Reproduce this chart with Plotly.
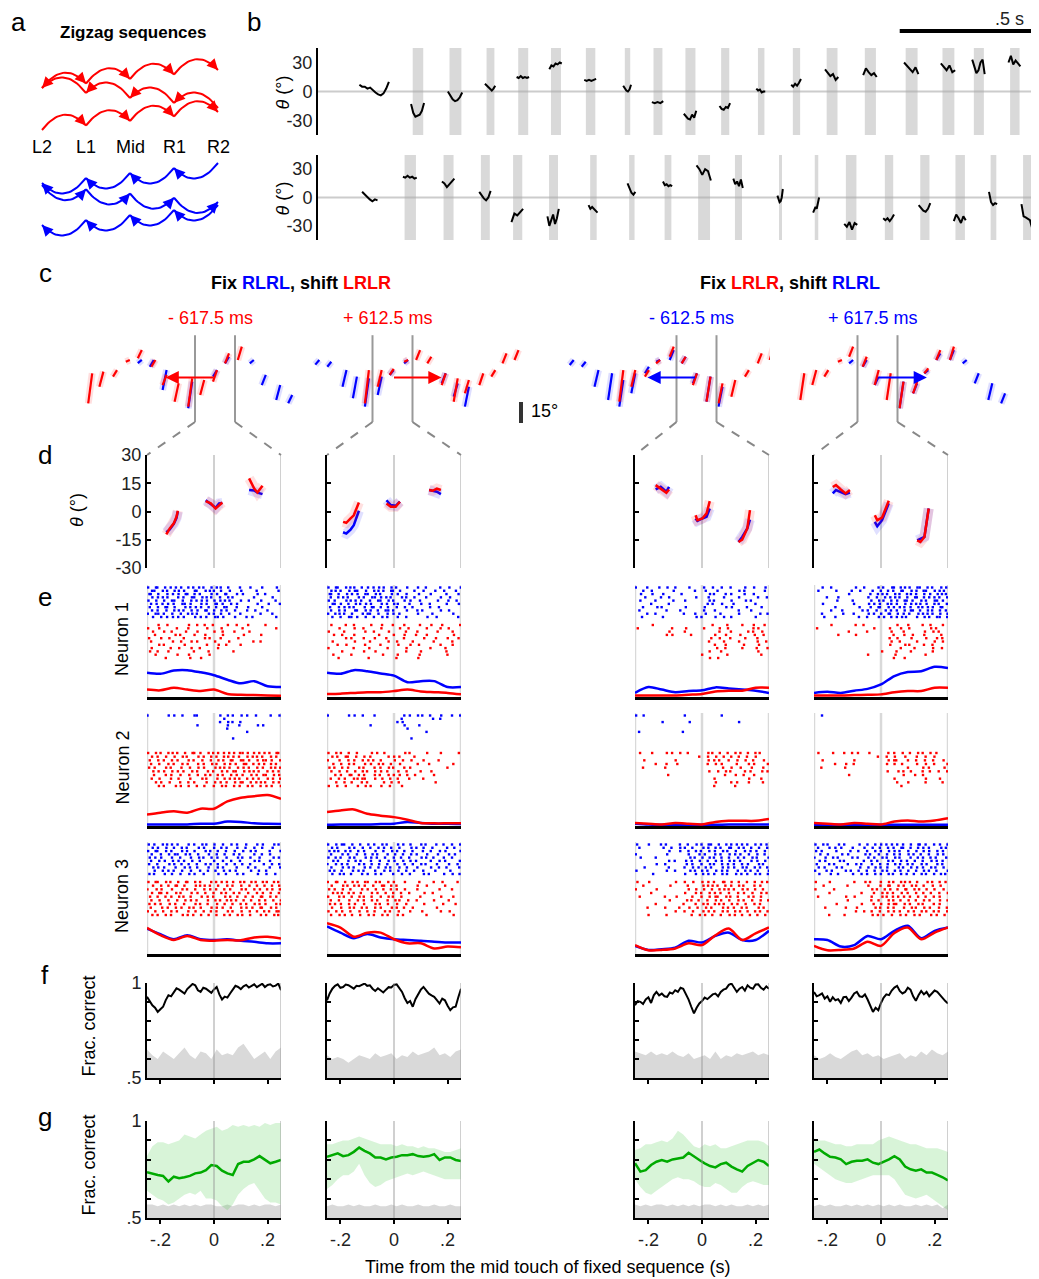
import numpy as np
import plotly.graph_objects as go

W, H = 1039, 1279
OFF = 8  # the page body margin shifts the figure by 8 px
FW, FH = W - OFF, H - OFF
FONT = "Liberation Sans, Arial, sans-serif"
RED = "#ff0000"
BLUE = "#0000ff"
GREEN = "rgb(0,170,0)"
GRAY_LINE = "rgba(150,150,150,0.45)"

# ---------------- data ----------------
# a: touch positions and zigzag rows (indices into positions)
A_POSITIONS = ["L2", "L1", "Mid", "R1", "R2"]
A_RED_ROWS = [[0, 1, 2, 3, 4], [4, 3, 2, 1, 0], [0, 1, 2, 3, 4]]
A_BLUE_ROWS = [[4, 3, 2, 1, 0], [0, 1, 2, 3, 4], [4, 3, 2, 1, 0]]

# b: touch periods (s) and whisker angle (deg) within each touch
B_TOP_ON = [0.350, 0.486, 0.623, 0.740, 0.861, 0.990, 1.134, 1.240, 1.358, 1.490, 1.626, 1.755, 1.880, 2.021, 2.172, 2.308, 2.424, 2.558]
B_TOP_OFF = [0.389, 0.530, 0.652, 0.777, 0.898, 1.025, 1.154, 1.273, 1.395, 1.520, 1.650, 1.782, 1.920, 2.062, 2.216, 2.352, 2.461, 2.593]
B_TOP_FIRST_SPAN = [0.153, 0.262]
B_TOP_FIRST = [7, 5, 5, 3, 4, 1, -1, -3, -4, -2, 3, 10]
B_TOP_VALS = [
    [-13, -22, -26, -25, -24, -20, -12],
    [0, -4, -8, -10, -9, -6, -1],
    [8, 6, 4, 2, 1, 3, 6],
    [15, 14, 16, 14, 15, 14, 15],
    [23, 27, 26, 29, 28, 30, 29],
    [12, 11, 12, 11, 12, 13],
    [6, 3, 1, 0, 2, 7],
    [-11, -12, -11, -12, -10],
    [-23, -26, -28, -29, -24, -27, -20],
    [-15, -18, -19, -16, -17, -12],
    [3, 1, 2, -1, 0, 0],
    [7, 5, 8, 6, 9, 13],
    [23, 20, 16, 18, 12, 15],
    [17, 24, 20, 17, 19, 15],
    [30, 27, 24, 20, 25, 18],
    [29, 26, 22, 27, 20, 22],
    [33, 25, 19, 22, 30, 33, 18],
    [30, 37, 28, 32, 29, 26],
]
B_BOT_ON = [0.320, 0.464, 0.602, 0.721, 0.854, 1.006, 1.150, 1.281, 1.405, 1.541, 1.704, 1.836, 1.951, 2.095, 2.226, 2.356, 2.486, 2.606]
B_BOT_OFF = [0.362, 0.501, 0.635, 0.755, 0.887, 1.030, 1.170, 1.306, 1.449, 1.567, 1.715, 1.849, 1.990, 2.126, 2.260, 2.391, 2.507, 2.636]
B_BOT_FIRST_SPAN = [0.163, 0.220]
B_BOT_FIRST = [6, 3, 0, -2, -4, -2, -3]
B_BOT_VALS = [
    [22, 21, 23, 21, 22, 20, 21],
    [17, 15, 11, 14, 17, 20],
    [6, 2, -1, -3, 0, 7],
    [-26, -17, -19, -16, -12],
    [-20, -30, -24, -18, -28, -22, -12],
    [-8, -12, -10, -12, -13, -16],
    [15, 9, 5, 3, 6],
    [17, 13, 14, 12, 13, 12],
    [34, 30, 24, 30, 28, 18],
    [20, 14, 17, 12, 19, 10],
    [2, -3, -5, -4, 0, 9],
    [-16, -12, -10, -12, -7, 0],
    [-28, -31, -26, -34, -27, -29],
    [-22, -24, -22, -25, -22, -18],
    [-8, -11, -14, -15, -12, -6],
    [-25, -18, -22, -27, -20, -24],
    [6, -5, -8, -6, -7],
    [-7, -20, -21, -23, -24, -32],
]

# c: shifted sequences, touches as (time s, top deg, bottom deg)
C_TITLES = ["Fix <span style='color:#0000ff'>RLRL</span>, shift <span style='color:#ff0000'>LRLR</span>",
            "Fix <span style='color:#ff0000'>LRLR</span>, shift <span style='color:#0000ff'>RLRL</span>"]
C_SHIFTS = [-0.6175, 0.6125, -0.6125, 0.6175]
C_SHIFT_LABELS = ["- 617.5 ms", "+ 612.5 ms", "- 612.5 ms", "+ 617.5 ms"]
C1_RED = [(-1.56, 4.8, -16.7), (-1.42, 6.0, -4.8), (-1.25, 7.0, 2.4), (-1.09, 14.3, 13.0), (-0.94, 21.4, 15.5),
          (-0.77, 14.3, 9.5), (-0.63, 3.6, -3.6), (-0.48, -2.4, -15.5), (-0.31, 1.2, -19.0), (-0.16, 0.0, -10.7),
          (0.00, 7.1, -1.2), (0.15, 19.0, 11.9), (0.31, 23.8, 14.3)]
C1_BLUE = [(-0.94, 14.3, 12.0), (-0.79, 14.3, 9.5), (-0.63, 7.1, -7.1), (-0.31, -1.2, -20.2), (0.00, 7.1, 2.4),
           (0.15, 16.6, 11.9), (0.46, 14.3, 11.9), (0.61, 3.6, -3.6), (0.79, -3.6, -14.3), (0.94, -10.7, -16.6)]
C2_RED = [(-0.32, 7.1, -16.7), (-0.16, 7.1, -4.8), (-0.01, 8.0, 3.6), (0.17, 14.3, 13.1), (0.32, 21.4, 14.3),
          (0.46, 16.6, 11.9), (0.64, 4.8, -3.6), (0.79, 1.2, -15.5), (0.93, 0.0, -9.5), (1.11, 4.8, -3.6),
          (1.26, 7.1, 2.4), (1.40, 19.0, 11.9), (1.55, 21.4, 14.3)]
C2_BLUE = [(-0.94, 14.3, 11.0), (-0.79, 13.0, 9.5), (-0.60, 7.1, -4.8), (-0.47, 2.4, -13.0), (-0.32, 1.2, -19.0),
           (-0.16, 2.4, -10.7), (-0.01, 7.1, 3.6), (0.17, 14.3, 11.9), (0.64, 4.8, -2.4), (0.79, -2.4, -11.9),
           (0.93, -4.8, -19.0)]
C3_RED = [(-0.94, 7.1, -15.5), (-0.79, 7.1, -4.8), (-0.62, 7.1, 2.4), (-0.48, 14.3, 11.9), (-0.31, 23.8, 16.6),
          (-0.16, 16.6, 11.9), (-0.02, 4.8, -3.6), (0.15, 2.4, -15.5), (0.30, -2.4, -16.7), (0.46, 0.0, -11.9),
          (0.63, 7.1, 2.4), (0.79, 19.0, 11.9), (0.94, 23.8, 14.3)]
C3_BLUE = [(-1.56, 14.3, 10.7), (-1.41, 13.0, 9.5), (-1.25, 7.1, -4.8), (-1.08, 4.8, -14.3), (-0.94, 0.0, -19.0),
           (-0.79, 4.8, -9.5), (-0.62, 9.5, 4.8), (-0.48, 14.3, 13.1), (-0.31, 21.4, 14.3), (-0.16, 16.6, 11.9),
           (-0.02, 4.8, -2.4), (0.15, 2.4, -15.5), (0.30, -4.8, -19.0)]
C4_RED = [(-0.94, 4.8, -14.3), (-0.79, 7.1, -3.6), (-0.64, 7.1, 2.4), (-0.47, 14.3, 13.1), (-0.33, 23.8, 16.6),
          (-0.16, 16.6, 9.5), (-0.01, 7.1, -3.6), (0.14, 4.8, -14.3), (0.30, -1.2, -20.2), (0.47, -1.2, -9.5),
          (0.61, 8.3, 4.8), (0.76, 21.4, 14.3), (0.93, 23.8, 14.3)]
C4_BLUE = [(-0.33, 14.3, 11.9), (-0.16, 14.3, 9.5), (-0.01, 2.4, -3.6), (0.30, -1.2, -20.2), (0.47, -2.4, -9.5),
           (0.61, 7.1, 4.8), (0.76, 19.0, 14.3), (0.93, 21.4, 14.3), (1.09, 14.3, 11.9), (1.24, 4.8, -2.4),
           (1.41, -2.4, -14.3), (1.57, -9.5, -16.7)]

# d: mean angle around the three touches, per column: (times, red, blue)
D1 = [([-0.178, -0.165, -0.150, -0.140, -0.135], [-12.2, -9.0, -6.3, -2.8, 0.4], [-11.0, -9.5, -6.5, -3.5, 0.0]),
      ([-0.031, -0.012, 0.006, 0.019, 0.031], [5.5, 4.3, 1.6, 3.4, 4.8], [6.0, 3.9, 2.0, 4.3, 4.5]),
      ([0.131, 0.150, 0.162, 0.181], [17.6, 12.2, 10.1, 13.7], [11.4, 11.2, 10.0, 9.2])]
D2 = [([-0.190, -0.178, -0.162, -0.150, -0.131], [-5.5, -6.0, -3.7, -2.0, 4.8], [-11.0, -11.7, -9.6, -7.3, 0.4]),
      ([-0.028, -0.012, 0.006, 0.022], [4.3, 2.5, 2.5, 5.2], [6.0, 3.4, 3.0, 5.2]),
      ([0.131, 0.144, 0.160, 0.175], [11.4, 11.0, 12.1, 11.4], [11.4, 11.0, 10.5, 9.2])]
D3 = [([-0.173, -0.154, -0.133, -0.123], [14.0, 12.2, 9.9, 11.7], [11.7, 13.1, 10.5, 13.1]),
      ([-0.024, -0.017, 0.001, 0.017, 0.029], [-2.0, -4.6, -3.7, -1.0, 5.5], [-3.7, -5.0, -3.7, -2.8, 1.6]),
      ([0.136, 0.150, 0.169, 0.179], [-16.2, -14.9, -9.0, 0.7], [-16.2, -13.5, -9.0, -4.3])]
D4 = [([-0.180, -0.168, -0.150, -0.132, -0.116], [13.0, 14.0, 11.7, 9.6, 11.4], [9.6, 11.4, 10.3, 9.2, 10.0]),
      ([-0.023, -0.014, 0.004, 0.020, 0.029], [-2.0, -4.6, -3.2, 2.5, 5.7], [-5.5, -7.8, -4.6, 0.7, 4.3]),
      ([0.135, 0.147, 0.162, 0.178], [-15.3, -16.2, -13.5, 1.6], [-15.3, -14.5, -13.5, 1.6])]

# e: spike rasters, one string per trial, 41 bins from -0.25 to 0.25 s.
# a digit marks a spike and gives its position inside the bin (tenths), '.' = no spike
N1_C1_BLUE = ["3.71.5.28.4.6.19.2.7.35.8...4..6...2...7.", ".52.8.1.47.3..61.9.24.6..3..8....5......2",
              "71.4..29.6.83.5.1..7.4.92..5.3...8..1....", ".6.38.2..5.1.74.9.26..3.8.1.....7.....4..",
              "4.8..2.63.9..5.17.3.6.48.2..7..1..9....3.", ".29.7.4.1.85.3..6.2.93.1.7.5.....8...2..6",
              "8..3.61.4..7.29.5.8..1.63..4..9....2.....", ".5.2.9..37.1.6.4.82.5.7.3.9...6..1..8....",
              "2.64.1.7..3.58.2..9.4.6..1..5.....7...3..", ".8..3.19.5.2..7.4.1.86.3..9...4.2......5."]
N1_C1_RED = ["...5..2.....8..3.6..1...7..4..9.....2....", "3..7.....1..6.....4...8......2.........5.",
             ".8...2.5...9...4....6..1..7....3.........", "..4.....7.1...5..8.....2.....6....9......",
             "6...3.8....2.....7.1..5....9.............", ".2.....9..4..6.3....8....1......5.7......",
             "...7.1.....5......3..9..2...6............", ".4.....2.8...6..1....7...................",
             "9..2..5.......3...8.......4..............", "..6......3..8......1.....................",
             ".....7.......2..5........................"]
N1_C2_BLUE = ["4.72.8.13.6.5.29.3.7.1..5..8..2...6..4..9", ".36.1.8.52.9..47.2.61.3...7..5...1.8...4.",
              "82.5..16.3.74.9.2..8.6..3...1..7....5...2", ".1.49.3..7.2.86.5.14..9.2.7...3...8..6...",
              "5.3..9.27.4..1.63.8.2..7.5..4....9...1.6.", ".73.2.5.8.19.4..7.3.56...2..8..4....6...3",
              "9..6.38.1..5.72.4.6..3.8..1....5..2......", ".2.7.4..61.8.3.5.97.2...4..6.1....8..3...",
              "3.58.2.6..9.41.7..5.3.1....8....2.....6..", ".6..1.74.2.8..3.9.4..6..2.....7..5......1"]
N1_C2_RED = [".3...7..2....5..8...1..6....4..9...2....7", "...8....4..1....6.....3.9.....5...7..2...",
             "5....2.....7..3...9.....1..6.....8....4..", "..1.6...3......9....4..7...2..5.......8..",
             ".....8.4...2..6...1....5.....7...3..9...2", ".7......5....1....8..4....2.....6.....3..",
             "...2.9.....6....3....8...5..1.....7...4..", "4.......1...9.....5.....3......6....2....",
             "....6......3..8.........2...7.......5....", ".9.....4.........1...6......3.......8....",
             "...5........7........2.....9............."]
N1_C3_BLUE = ["2..7...4.9..3...6....1.8..5..2...7..4..9.", "..5..1.....8......3..6...2.....9.4.....7.",
              ".8...3..6.....2.......9.1..7.4...5..3....", "...1...9..4.......7...5....2...8.....6..3",
              ".6....2....7...3......8.1....5...9.4.....", "....9.....3...........27..6...1.....8....",
              "..4...8.1......5.....3.....9.6....2...7..", ".3.......6...8.......1..4......7...5.....",
              "...7..2.......9...4..6....1....8......3.5", "..1.....5.........8.3...6..2.4......9...."]
N1_C3_RED = [".....4.................7....2...8...3..6.", "8..........3...6.....1...9..4.......27...",
             "..........5....2.........8...3....6.1.9..", ".........7.4.....1......5..8....2...6..3.",
             ".......................3.9...1...7...4...", "......................6....2...8.....5..1",
             "........................4..7.....3...9...", ".........................1.6....8....2..5",
             "......................8...3..........7...", "....................5.......2.........6..",
             "......................9..4..............."]
N1_C4_BLUE = ["..6..2......8..3...7.1.94.58.2.63.7.1.9.4", ".3....8....5..1..9..4.6.2.71.8.3.52.9.47.",
              "..........7......2.59.3.8.1.46.2.7.5.8.13", "...9...4........6..2.7.38.1.5.94.6.28.3.7",
              ".......1...8.....5.9.2.6.4.73.1.8.2.96.4.", "..7.........2...8.4.1.56.3.9.7.25.4.8.1.6",
              "......5......9...3.71.8.4.26.5.9.18.3.72.", ".....2..6.....8.4..1.9.5.3.7.62.4.8.1.5.3",
              "..4.....9...1...7.3.5.82.6.4.1.9.37.2.6.8", "...1..5......7..2..8.4.6.39.1..5.8.2.64.7"]
N1_C4_RED = [".....3......7..1.........5..8....2.6...4.", "9.................4....2..6..1.....8.3...",
             "..........6.....2......7...4.....9..5.1..", ".......4....8...........3..6..2..7....9.",
             ".......................1.5...8....3..6.2", ".......................7..2....5....9..4.",
             ".......................3...9.1...6..2....", "..........................5...7.....4..1.",
             "....................8....2...6......3....", "................5.......9.........1......",
             "........................4..7............."]
N2_C1_BLUE = ["1.....6.3.8...52......4.7.2.9.6..3...8..5", ".......................6.................",
              "......................3.8.1.5............", "...............4........7...2....9.5.....",
              "........................5................", "..............................6..........",
              ".........................................", "..........................3..............",
              ".........................................", "........................................."]
N2_C1_RED = ["3.7.1.58.2.6.94.3.8.27.5.16.428.7.39.4.61", ".5.2.8..4.9.1..7.3.6.2.58.4.1.7.36.2.9.5.",
             "8..4.1.6.3..7.2.9..5.8.3.61.74.2.8.53.1.7", ".2.7..5.1.8.4..6.3.9.2.7.4.1.63.5.28.9.4.",
             "6.3..8.2..5..1.7.4..9.36.2.8.5.1.7.4.9.27", ".9.5.2.7.4.1.8.3..6.2.9.5.41.7.36.1.8.5.2",
             "..1..7.4..2.9..5.8.3.6.1.7.4.2.9.5.63.8.4", ".4.8...3.6...2..9.1..5.7.38.2.6.4.1.9.5.7",
             "..7.3.9...1.6.4...2.8.5.3.9.62.7.48.1.6.3", "...6.1..8.3.7..2.5..4.9.1.6.3.8.2.7.5.1.9"]
N2_C2_BLUE = ["2.....7.4.9...5........6.3.8.1.5..9...2.7", "......................8.........4.6......",
              ".....................5.1.................", ".............3.........7....2............",
              "........................6................", "..............................4..........",
              ".........................................", ".........................8...............",
              ".........................................", "........................................."]
N2_C2_RED = ["4.8.2.6..1...7.3.5.....9.2....6...8.....3", ".6.1.73.9..4.2....8.5.1...7..............",
             "2..8..5.3.9.6.1.4...7..2.8...5....1......", ".9..3.7.2..6.4.8.1.5..3....7...2......6..",
             "7.2.6.4..8.1..5.3.9.2..6.4..........8....", ".3.8..1.6.9.2.7.5.4..8..3...6..9.........",
             "..5.2.94.7.3..6.1.8.4.2.5.9.....7........", ".1.6.4..2385..7.9..3.6...1...4...........",
             "..8..3.5..6.2....4.7.9...........2.......", "5..1.7...4.8.3..6..2..9.................."]
N2_C3_BLUE = ["3.6............2..........5..............", ".........................................",
              "........4.......7..............8.........", ".........................................",
              ".........................................", ".2............6..........................",
              ".........................................", ".........................................",
              ".........................................", "........................................."]
N2_C3_RED = [".5...2...7.3.8..1.....46.9..3.7.2.5.8.1..", "...................6..3.8..1.4.7..2.9....",
             "..8.........4.........5.27..6..3.8..1..4.", "......3..6..9.........2.7.5....1..8.4...6",
             "..4......2................9..5..3..7...2.", "......................7..4.8.1...6.3..9.5",
             "..........1................5..8..2..4....", "........................3.........9...6..",
             "........................7....4.2..8....1.", "........................2.....6.........."]
N2_C4_BLUE = ["..4......................................", ".........................................",
              ".........................................", ".........................................",
              ".........................................", ".........................................",
              ".........................................", ".........................................",
              ".........................................", "........................................."]
N2_C4_RED = [".3...8...2.6.4..9.....7.5..1.3.8.2.6.4...", "...................5..2.7..9...4..1.8....",
             "..6.........3.........8.51..7..2.9..4..6.", "......4..8..1.........3.6.9....5..2.7...8",
             "..2......5..................7....4.1...9.", "......................5..8.3.6...2.4..1.7",
             "..........7................4..9..3.......", "........................6.........2...5..",
             ".........................4..8.....1....3.", "..........................7.............."]
N3_C1_BLUE = ["5.2.8.16.3..7.4.9.1.6..2.8.5..3..7.4..9.2", ".7.3.9..2.6.1..8.4..5.7.3..6..1.8..2..4..",
              "3.61.8.4..7.2.5..9.3.6..1.8..4.7.2...5..8", ".4..2.7.53.8.1.6..9..3.7..5.2...8..1.6...",
              "8.5.3..6..1..4.9.2.7.5..3..8.1.6..4...7.3", ".2.7.4.9.6.3.8..1...5..2.7..4...9.3..6...",
              "6..1..8.3.5.7..2.9.4.6..3.8..1.5...7..2.4", ".9.4.2..7..5.1.3..8..6.2...4..9..1...5..7",
              "..3.8.5.1.7..4..2.6.9..5.3.1...8..2.4....", "7.1..4.6..2.9.5..3...8..1..6.4...9..5..2."]
N3_C1_RED = ["4.62.8.1.5.93.7.2..6.18.4.3.57.9.2.46.8.1", ".8..3.5.71.4..9.26.2.7..5.1.8..3.6.9..2.4",
             "1.9.4..6..8.2.7..5.3.1.6.4..9.2.8.5.7.3.6", ".5.73.1.9.2..6.4.8..3.7.1.5.2.9..6.4.8..3",
             "9..2.6.4.8.1.3..7.5.2..9.4.6..1.3.82.7.5.", ".3.8..5..2.7.4.1..6.9.3.47.2.5.8..3.1.6.9",
             "7.4.1.9.6..3..8.2.5..4.7..1.6.3.9.4.2..58", ".1..6.3.8.5.9.2.4..7.3.1.6..8.4.2.71.9.5.",
             "2.5.9..4.1..6.8..3.5.2..7.1.9..4.6.8.3.62", ".6.2.7.3..9.4.1.5.8..2.6.3.7.1.5..8.4.9.1"]
N3_C2_BLUE = ["3.8.52.7..1.6.4.9.2..7.3.5..8.1..4.6..2.7", ".5.1..8.3.9..2.7.4.6..1..8.3.5..2...7.9..",
              "7.24.6.1.5.3..8..2.9.4.6..1..3.7..5.2...8", ".2..7.4..1.6.9.3..5.8..2.7.4..6..9...3.1.",
              "4.6.1.9.3..8.5.2.7..4.6..1..9.3.5..7..2..", ".9.3..5.7.2..4..1.8.6..3.5.2...7..4.1...6",
              "1.7.5.2..8.3.6.9..4..5.7..2.8.1..6...3.9.", ".3..8.6.1..5.2.7.9.3..1.4..6...8..2.5...4",
              "8.2.4..9.6.1..7..5.3.8..2.6..4...1...7...", ".6.9.1.3..7.4.8.5...2.9..3...6.1...8..4.5"]
N3_C2_RED = ["2.71.5.8.3.64.9.1.7.4..8....2...6..3...9.", ".4..9.2.37.5..1.84.6.2.....7..5.....1....",
             "6.3.8..1..7.4.9..2.5.3.8...6......4...2..", ".8.25.6.1.3..7.4.9..2.6..1...8..3........",
             "3..7.1.5.9.2.6..4.8.1.7.....5.....9...6..", ".1.6..8..4.2.7.3..5.9.1.8..4....7....2...",
             "9.4.2.7.5..3..8.1.6..4..2....7.....5...3.", ".5..3.9.2.6.1.7.4..8.3.5..2......6.......",
             "4.8.6..1.9..3.5..7.2.9...4...1....8..5...", ".2.8.4.6..1.7.3.9.5..6.2......4.......7.."]
N3_C3_BLUE = ["6...2..9.4...7..1.8.3.52.6.9.4.17.3.8.5.2", ".3......7..1.8.2.5..9.4.6.1.83.7.2.5.9..4",
              "..........5..8..3.6.1.7.4.9.2.8..6.3.1.7.", "2........8......4..7.3..5.1.9.6.2.8..4.6.",
              ".7....3.........9.2.6.8.1.4.7..5.3.9.2..8", "..........4.1..6.3.8..2.7.5.9.3.1..6.4.8.",
              "......6..2.....8.5..3.9.1.6.4.2.7.5..9.1.", "..9.......3....1.7.4.6.2..8.5.3.9.1.6.2.4",
              "4........7..2...9.3.5.1.8.6.2..4.7.3.5..9", ".....5.........3..6.8.4.2.7.1.9.5.3.8.2.6"]
N3_C3_RED = ["7...3.......5..2.8..6.4.1.93.5.7..2.6.8.4", "..5.......8.....1...9.37.2.6.4.8.1..5.3..",
             "2.....6.........4.7..1.5.8.36.2.9.4.7..1.", "....9..........3..6.2.8.4.1.7..5.3.9..6.2",
             ".4.......1..7....5..3.8.62.9.1.4..7.2.5..", "..........6....9.2.4..1.7.3.8..6.2.8..4.7",
             "......3.......8...5.9.2.47.1.6.3.8..5.2..", "...8.....2...5..6..1.7.3..9.4.2.6.1..8.3.",
             "............4..1.7..9.5.2.8.3.6.1.4.7.2.5", "....1....6.......3.8.4.6..2.9.5.7..1.4.8."]
N3_C4_BLUE = ["4.8.1..6.2...9..3.7.5.18.4.2.6.93.1.7.5.8", ".2..7.5.3..8...4.9..1.6.3.72.5.8.4.1..9.3",
              "6.3...8....1.5..2.7.4.9.6.1.8..3.5.2.7.4.", ".9..2...6.4....7.1.8..3.5.2.9.4.6..1.8.5.",
              "1..5.8.2...7.3..6.4.9.2.8.1..5.7.3.6.2..4", ".7.4...9.1.....2.5.3..7.1.6.4.8..2.9.5.3.",
              "8...6.1...3.9.4..7..2.5.8.3.6.1.9.4..7.2.", ".4.2..9.5.....1.6.8.3.4..9.2.7.5.3.8.1.6.",
              "3..8.4...7.2.6..1.5.9.3.7.4.8..2.6.1.4..9", ".6...1.3...9..5.2.7.4.8.1.6.3.5.9.2.7.8.1"]
N3_C4_RED = ["5...8.......3..7.1..4.9.2.68.3.5..7.1.4.2", "..9.......2.....6...3.71.8.4.9.2.5..3.7..",
             "4.....1..........8.2.6.3.5.92.7.1.4.8..6.", "....7.........5...3.9.4.1.8.6..2.4.7..3.9",
             ".2.......8..4....6..9.2.17.5.3.8..1.6.4..", "..........3......5.7..8.2.4.9..1.6.3..5.8",
             "......9.......6...2.5.8.41.7.3.9.2..6.4..", "...4.....7...1....8.2.6.3..5.9.1.7.4..2.6",
             "............8..3.6..1.7.4.2.8.5.9.3.6.1.7", "....6....3.......9.5.2.8..4.1.7.3..8.5.9."]

# e: smoothed firing rate (fraction of the rate strip height), 11 points from -0.25 to 0.25 s
N1_BLUE_PSTH = [[0.64, 0.61, 0.70, 0.71, 0.65, 0.57, 0.45, 0.35, 0.41, 0.27, 0.25],
                [0.64, 0.61, 0.71, 0.68, 0.62, 0.56, 0.38, 0.41, 0.41, 0.25, 0.25],
                [0.09, 0.25, 0.18, 0.11, 0.14, 0.16, 0.24, 0.21, 0.18, 0.15, 0.09],
                [0.09, 0.12, 0.09, 0.15, 0.20, 0.32, 0.55, 0.66, 0.68, 0.80, 0.77]]
N1_RED_PSTH = [[0.18, 0.16, 0.23, 0.18, 0.14, 0.18, 0.06, 0.04, 0.03, 0.02, 0.01],
               [0.06, 0.07, 0.09, 0.11, 0.11, 0.14, 0.18, 0.13, 0.11, 0.09, 0.05],
               [0.02, 0.02, 0.02, 0.02, 0.04, 0.06, 0.13, 0.15, 0.15, 0.23, 0.23],
               [0.02, 0.02, 0.02, 0.03, 0.04, 0.05, 0.11, 0.14, 0.14, 0.23, 0.23]]
N2_BLUE_PSTH = [[0.02, 0.02, 0.02, 0.02, 0.04, 0.04, 0.10, 0.09, 0.05, 0.04, 0.03],
                [0.01, 0.02, 0.02, 0.02, 0.03, 0.04, 0.09, 0.06, 0.04, 0.04, 0.03],
                [0.04, 0.02, 0.01, 0.01, 0.01, 0.01, 0.01, 0.02, 0.02, 0.02, 0.02],
                [0.01, 0.01, 0.01, 0.01, 0.01, 0.01, 0.01, 0.01, 0.01, 0.01, 0.01]]
N2_RED_PSTH = [[0.29, 0.34, 0.38, 0.34, 0.45, 0.45, 0.65, 0.75, 0.79, 0.82, 0.72],
               [0.36, 0.40, 0.43, 0.31, 0.26, 0.22, 0.15, 0.06, 0.05, 0.05, 0.05],
               [0.06, 0.04, 0.02, 0.06, 0.04, 0.02, 0.09, 0.12, 0.12, 0.12, 0.17],
               [0.06, 0.04, 0.02, 0.06, 0.04, 0.02, 0.10, 0.13, 0.10, 0.13, 0.19]]
N3_BLUE_PSTH = [[0.67, 0.52, 0.38, 0.49, 0.38, 0.36, 0.38, 0.34, 0.31, 0.27, 0.27],
                [0.73, 0.56, 0.41, 0.52, 0.43, 0.38, 0.36, 0.34, 0.31, 0.29, 0.29],
                [0.20, 0.09, 0.11, 0.15, 0.34, 0.29, 0.47, 0.56, 0.36, 0.36, 0.61],
                [0.38, 0.36, 0.18, 0.22, 0.47, 0.38, 0.61, 0.75, 0.41, 0.61, 0.70]]
N3_RED_PSTH = [[0.69, 0.49, 0.36, 0.47, 0.36, 0.34, 0.36, 0.35, 0.43, 0.45, 0.40],
               [0.82, 0.70, 0.45, 0.56, 0.56, 0.38, 0.27, 0.27, 0.13, 0.18, 0.16],
               [0.22, 0.08, 0.09, 0.13, 0.27, 0.22, 0.49, 0.67, 0.36, 0.54, 0.70],
               [0.20, 0.08, 0.09, 0.13, 0.31, 0.20, 0.55, 0.70, 0.38, 0.56, 0.70]]

# f: decoder fraction correct (51 points from -0.25 to 0.25 s) and shuffled chance upper bound (26 points)
F_CORRECT = [[0.927, 0.905, 0.883, 0.870, 0.848, 0.862, 0.875, 0.910, 0.936, 0.930, 0.948, 0.972, 0.965,
              0.952, 0.944, 0.968, 0.979, 0.995, 0.988, 0.962, 0.953, 0.975, 0.970, 0.958, 0.948, 0.966,
              0.979, 0.940, 0.913, 0.928, 0.923, 0.945, 0.965, 0.985, 0.979, 0.968, 0.983, 0.990, 0.976,
              0.985, 0.993, 0.978, 0.988, 0.996, 0.979, 0.990, 0.993, 0.982, 0.986, 0.997, 0.962],
             [0.909, 0.945, 0.970, 0.985, 0.993, 0.975, 0.979, 0.992, 0.988, 0.980, 0.970, 0.985, 0.983,
              0.990, 0.997, 0.985, 0.988, 0.970, 0.958, 0.972, 0.962, 0.950, 0.965, 0.978, 0.976, 0.990,
              0.993, 0.975, 0.953, 0.920, 0.895, 0.905, 0.875, 0.915, 0.944, 0.965, 0.979, 0.960, 0.944,
              0.935, 0.927, 0.910, 0.892, 0.918, 0.909, 0.880, 0.857, 0.872, 0.875, 0.925, 0.970],
             [0.883, 0.905, 0.901, 0.890, 0.913, 0.925, 0.895, 0.935, 0.953, 0.935, 0.944, 0.930, 0.927,
              0.950, 0.944, 0.962, 0.953, 0.975, 0.970, 0.945, 0.913, 0.875, 0.840, 0.870, 0.892, 0.905,
              0.923, 0.915, 0.927, 0.940, 0.944, 0.930, 0.953, 0.965, 0.970, 0.990, 0.997, 0.975, 0.953,
              0.970, 0.979, 0.960, 0.988, 0.975, 0.970, 0.992, 0.993, 0.975, 0.965, 0.982, 0.970],
             [0.953, 0.930, 0.936, 0.945, 0.918, 0.930, 0.901, 0.925, 0.909, 0.915, 0.895, 0.925, 0.927,
              0.905, 0.923, 0.945, 0.953, 0.930, 0.927, 0.940, 0.913, 0.880, 0.848, 0.870, 0.857, 0.895,
              0.923, 0.940, 0.936, 0.960, 0.976, 0.985, 0.958, 0.945, 0.953, 0.975, 0.965, 0.930, 0.906,
              0.935, 0.958, 0.940, 0.953, 0.930, 0.944, 0.960, 0.953, 0.935, 0.918, 0.905, 0.892]]
F_CHANCE = [[0.65, 0.62, 0.60, 0.64, 0.62, 0.60, 0.63, 0.66, 0.62, 0.60, 0.64, 0.63, 0.60,
             0.65, 0.62, 0.63, 0.62, 0.66, 0.68, 0.64, 0.60, 0.62, 0.64, 0.60, 0.64, 0.66],
            [0.62, 0.60, 0.61, 0.60, 0.58, 0.60, 0.62, 0.61, 0.60, 0.63, 0.61, 0.62, 0.63,
             0.60, 0.62, 0.61, 0.64, 0.62, 0.63, 0.64, 0.66, 0.62, 0.63, 0.61, 0.64, 0.65],
            [0.64, 0.63, 0.62, 0.64, 0.62, 0.63, 0.62, 0.64, 0.62, 0.61, 0.63, 0.60, 0.61,
             0.62, 0.60, 0.64, 0.60, 0.62, 0.61, 0.63, 0.62, 0.63, 0.64, 0.62, 0.63, 0.62],
            [0.62, 0.60, 0.61, 0.63, 0.61, 0.60, 0.62, 0.64, 0.65, 0.62, 0.63, 0.61, 0.62,
             0.60, 0.61, 0.62, 0.63, 0.60, 0.62, 0.61, 0.64, 0.62, 0.65, 0.63, 0.62, 0.64]]

# g: population decoder mean, spread (lower/upper) and chance (26 points)
G_MEAN = [[0.736, 0.727, 0.722, 0.717, 0.688, 0.713, 0.705, 0.710, 0.717, 0.730, 0.734, 0.747, 0.773,
           0.768, 0.744, 0.730, 0.722, 0.778, 0.790, 0.790, 0.802, 0.819, 0.799, 0.782, 0.790, 0.799],
          [0.816, 0.824, 0.833, 0.819, 0.824, 0.841, 0.863, 0.846, 0.833, 0.812, 0.812, 0.802, 0.812,
           0.816, 0.824, 0.823, 0.829, 0.819, 0.816, 0.819, 0.829, 0.799, 0.812, 0.812, 0.799, 0.794],
          [0.782, 0.739, 0.747, 0.773, 0.790, 0.799, 0.790, 0.802, 0.807, 0.812, 0.836, 0.816, 0.799,
           0.782, 0.768, 0.761, 0.778, 0.785, 0.765, 0.751, 0.739, 0.768, 0.782, 0.799, 0.790, 0.768],
          [0.841, 0.853, 0.833, 0.816, 0.812, 0.802, 0.778, 0.790, 0.795, 0.795, 0.802, 0.785, 0.778,
           0.790, 0.802, 0.819, 0.802, 0.765, 0.751, 0.744, 0.751, 0.734, 0.734, 0.722, 0.710, 0.693]]
G_UPPER = [[0.82, 0.87, 0.89, 0.89, 0.88, 0.89, 0.90, 0.93, 0.92, 0.91, 0.93, 0.95, 0.96,
            0.97, 0.95, 0.96, 0.98, 0.97, 0.98, 0.97, 0.98, 0.97, 0.99, 0.98, 0.99, 0.99],
           [0.88, 0.88, 0.89, 0.90, 0.90, 0.91, 0.92, 0.91, 0.90, 0.89, 0.88, 0.88, 0.88,
            0.87, 0.88, 0.87, 0.87, 0.86, 0.87, 0.86, 0.86, 0.85, 0.84, 0.84, 0.85, 0.86],
           [0.85, 0.86, 0.88, 0.88, 0.89, 0.90, 0.89, 0.91, 0.95, 0.93, 0.90, 0.87, 0.86,
            0.88, 0.87, 0.88, 0.86, 0.86, 0.87, 0.88, 0.89, 0.90, 0.90, 0.90, 0.89, 0.87],
           [0.91, 0.90, 0.90, 0.89, 0.88, 0.88, 0.87, 0.87, 0.88, 0.88, 0.88, 0.88, 0.90,
            0.91, 0.92, 0.91, 0.90, 0.89, 0.88, 0.88, 0.87, 0.86, 0.86, 0.86, 0.85, 0.84]]
G_LOWER = [[0.64, 0.62, 0.60, 0.59, 0.57, 0.58, 0.60, 0.62, 0.63, 0.62, 0.64, 0.60, 0.60,
            0.59, 0.56, 0.54, 0.57, 0.62, 0.65, 0.67, 0.68, 0.64, 0.60, 0.58, 0.58, 0.57],
           [0.65, 0.67, 0.70, 0.72, 0.72, 0.74, 0.78, 0.72, 0.68, 0.66, 0.67, 0.69, 0.70,
            0.71, 0.72, 0.73, 0.72, 0.73, 0.74, 0.73, 0.72, 0.71, 0.70, 0.70, 0.70, 0.70],
           [0.70, 0.66, 0.63, 0.62, 0.64, 0.66, 0.68, 0.70, 0.71, 0.70, 0.70, 0.69, 0.67,
            0.66, 0.66, 0.68, 0.67, 0.65, 0.63, 0.63, 0.66, 0.68, 0.69, 0.68, 0.67, 0.67],
           [0.78, 0.76, 0.74, 0.72, 0.70, 0.69, 0.68, 0.68, 0.69, 0.70, 0.71, 0.72, 0.72,
            0.72, 0.72, 0.70, 0.66, 0.62, 0.61, 0.60, 0.61, 0.62, 0.60, 0.58, 0.56, 0.54]]
G_CHANCE = [[0.57, 0.57, 0.56, 0.57, 0.56, 0.57, 0.56, 0.57, 0.56, 0.57, 0.56, 0.57, 0.57,
             0.56, 0.56, 0.57, 0.56, 0.57, 0.57, 0.56, 0.57, 0.56, 0.57, 0.57, 0.56, 0.57],
            [0.56, 0.57, 0.56, 0.56, 0.57, 0.56, 0.57, 0.56, 0.56, 0.57, 0.56, 0.56, 0.57,
             0.56, 0.57, 0.56, 0.56, 0.57, 0.56, 0.56, 0.57, 0.56, 0.56, 0.57, 0.56, 0.56],
            [0.57, 0.56, 0.57, 0.56, 0.57, 0.57, 0.56, 0.57, 0.56, 0.57, 0.56, 0.57, 0.56,
             0.57, 0.57, 0.56, 0.57, 0.56, 0.57, 0.56, 0.56, 0.57, 0.56, 0.57, 0.56, 0.57],
            [0.56, 0.57, 0.56, 0.57, 0.56, 0.56, 0.57, 0.56, 0.57, 0.56, 0.57, 0.56, 0.57,
             0.56, 0.57, 0.56, 0.57, 0.56, 0.56, 0.57, 0.56, 0.57, 0.56, 0.57, 0.55, 0.57]]

# ---------------- layout helpers ----------------
fig = go.Figure()
axes_layout = {}
shapes = []
annotations = []
n_axes = [0]


def PX(x):
    # page pixel -> paper x
    return (x - OFF) / FW


def PY(y):
    # page pixel (from top) -> paper y
    return 1 - (y - OFF) / FH


def make_axes(x0, y0, x1, y1, xr, yr, xopts=None, yopts=None):
    # box in page pixels (top-left origin), returns trace refs
    n_axes[0] += 1
    i = n_axes[0]
    sfx = "" if i == 1 else str(i)
    base = dict(showgrid=False, zeroline=False, showline=False, showticklabels=False,
                ticks="", fixedrange=True, automargin=False)
    xa = dict(base, domain=[PX(x0), PX(x1)], range=xr, anchor="y" + sfx)
    ya = dict(base, domain=[PY(y1), PY(y0)], range=yr, anchor="x" + sfx)
    if xopts:
        xa.update(xopts)
    if yopts:
        ya.update(yopts)
    axes_layout["xaxis" + sfx] = xa
    axes_layout["yaxis" + sfx] = ya
    return "x" + sfx, "y" + sfx


def add_text(x, y, text, size=18, color="black", **kw):
    opts = dict(xanchor="center", yanchor="middle")
    opts.update(kw)
    annotations.append(dict(x=PX(x), y=PY(y), xref="paper", yref="paper", text=text,
                            showarrow=False, font=dict(family=FONT, size=size, color=color), **opts))


def vline(xr, yr, x, y0, y1, color=GRAY_LINE, width=2, dash=None, layer="above"):
    shapes.append(dict(type="line", xref=xr, yref=yr, x0=x, x1=x, y0=y0, y1=y1, layer=layer,
                       line=dict(color=color, width=width, dash=dash)))


TICKFONT = dict(family=FONT, size=18, color="#222")
YLINE = dict(showline=True, linecolor="black", linewidth=2, tickfont=TICKFONT,
             ticks="inside", ticklen=4, tickcolor="black", tickwidth=1.5)

# ---------------- panel a ----------------
A_PX = 44  # pixels per position step
ax_x, ax_y = make_axes(20, 40, 240, 240, [-0.5, 4.5], [240, 40])
A_RED_ENDS = [(130, 112), (108, 88), (88, 70)]
A_BLUE_ENDS = [(163, 183), (185, 202), (205, 225)]
for rows, ends, bulge, color in [(A_RED_ROWS, A_RED_ENDS, 13, RED), (A_BLUE_ROWS, A_BLUE_ENDS, -13, BLUE)]:
    for seq, (ys, ye) in zip(rows, ends):
        ypos = np.linspace(ys, ye, len(seq))
        for k in range(len(seq) - 1):
            x0, x1 = seq[k], seq[k + 1]
            y0, y1 = ypos[k], ypos[k + 1]
            s = np.linspace(0, 1, 24)
            fig.add_trace(go.Scatter(x=x0 + (x1 - x0) * s, y=y0 + (y1 - y0) * s - bulge * 4 * s * (1 - s),
                                     mode="lines", line=dict(color=color, width=2),
                                     xaxis=ax_x, yaxis=ax_y, hoverinfo="skip"))
            dx = (x1 - x0) * A_PX
            dy = (y1 - y0) + 4 * bulge
            L = np.hypot(dx, dy)
            annotations.append(dict(x=x1, y=y1, xref=ax_x, yref=ax_y, ax=-dx / L * 10, ay=-dy / L * 10,
                                    text="", showarrow=True, arrowhead=2, arrowsize=1.1,
                                    arrowwidth=2, arrowcolor=color))
for k, lab in enumerate(A_POSITIONS):
    annotations.append(dict(x=k, y=147, xref=ax_x, yref=ax_y, text=lab, showarrow=False,
                            xanchor="center", yanchor="middle",
                            font=dict(family=FONT, size=18, color="black")))
add_text(18, 22, "a", size=26)
add_text(133, 32, "<b>Zigzag sequences</b>", size=17)

# ---------------- panel b ----------------
add_text(254, 22, "b", size=26)
for (y0, y1, ons, offs, first_span, first, vals) in [
        (48, 135, B_TOP_ON, B_TOP_OFF, B_TOP_FIRST_SPAN, B_TOP_FIRST, B_TOP_VALS),
        (155, 240, B_BOT_ON, B_BOT_OFF, B_BOT_FIRST_SPAN, B_BOT_FIRST, B_BOT_VALS)]:
    bx, by = make_axes(318, y0, 1035, y1, [0, 2.65], [-45, 45],
                       yopts=dict(YLINE, showticklabels=True, tickvals=[-30, 0, 30],
                                  ticktext=["-30", "0", "30"], ticks=""))
    for on, off in zip(ons, offs):
        shapes.append(dict(type="rect", xref=bx, yref=by, x0=on, x1=off, y0=-45, y1=45,
                           fillcolor="#d9d9d9", line=dict(width=0), layer="below"))
    shapes.append(dict(type="line", xref=bx, yref=by, x0=0, x1=2.65, y0=0, y1=0, layer="below",
                       line=dict(color="rgba(170,170,170,0.6)", width=2)))
    xs, ys = list(np.linspace(first_span[0], first_span[1], len(first))), list(first)
    for on, off, v in zip(ons, offs, vals):
        xs += [None] + list(np.linspace(on - 0.006, off + 0.003, len(v)))
        ys += [None] + list(v)
    fig.add_trace(go.Scatter(x=xs, y=ys, mode="lines", line=dict(color="black", width=2),
                             xaxis=bx, yaxis=by, hoverinfo="skip", connectgaps=False))
    add_text(282, (y0 + y1) / 2 + 1, "<i>θ</i> (°)", size=18, textangle=-90)
# .5 s scale bar
shapes.append(dict(type="line", xref=bx, yref="paper", x0=2.15, x1=2.65, y0=PY(31), y1=PY(31),
                   line=dict(color="black", width=4)))
annotations.append(dict(x=2.618, y=PY(19), xref=bx, yref="paper", text=".5 s", showarrow=False,
                        xanchor="right", yanchor="middle", font=dict(family=FONT, size=18, color="#222")))

# ---------------- panel c ----------------
add_text(45, 273, "c", size=26)
add_text(301, 283, "<b>" + C_TITLES[0] + "</b>", size=18)
add_text(790, 283, "<b>" + C_TITLES[1] + "</b>", size=18)
C_PX_PER_S, C_PX_PER_DEG = 80.0, 1.4
C_CENTERS = [215, 392.5, 696.5, 877.5]
C_BOXES = [(85, 300), (300, 530), (560, 770), (770, 1010)]
D_LEFTS = [147, 327, 635, 814]
D_WIDTH = 134
C_ZERO_Y, C_TOP, C_BOT = 380, 330, 430
c_data = [(C1_RED, C1_BLUE), (C2_RED, C2_BLUE), (C3_RED, C3_BLUE), (C4_RED, C4_BLUE)]
for i, (red, blue) in enumerate(c_data):
    cx0, cx1 = C_BOXES[i]
    xr = [(cx0 - C_CENTERS[i]) / C_PX_PER_S, (cx1 - C_CENTERS[i]) / C_PX_PER_S]
    yr = [(C_ZERO_Y - C_BOT) / C_PX_PER_DEG, (C_ZERO_Y - C_TOP) / C_PX_PER_DEG]
    cxa, cya = make_axes(cx0, C_TOP, cx1, C_BOT, xr, yr)
    for segs, color, shade in [(blue, BLUE, "rgba(0,0,255,0.13)"), (red, RED, "rgba(255,0,0,0.13)")]:
        xs, ys = [], []
        for t, top, bot in segs:
            xs += [t - 0.025, t + 0.025, None]
            ys += [bot, top, None]
        fig.add_trace(go.Scatter(x=xs, y=ys, mode="lines", line=dict(color=shade, width=7),
                                 xaxis=cxa, yaxis=cya, hoverinfo="skip"))
        fig.add_trace(go.Scatter(x=xs, y=ys, mode="lines", line=dict(color=color, width=2.2),
                                 xaxis=cxa, yaxis=cya, hoverinfo="skip"))
    # window lines
    for tw in (-0.25, 0.25):
        vline(cxa, cya, tw, -30, 32, color="#999999", width=2)
    shift_color = RED if i < 2 else BLUE
    annotations.append(dict(x=C_SHIFTS[i], y=1.8, xref=cxa, yref=cya, ax=0, ay=1.8, axref=cxa, ayref=cya,
                            text="", showarrow=True, arrowhead=2, arrowsize=1.2, arrowwidth=2.2,
                            arrowcolor=shift_color))
    annotations.append(dict(x=0, y=PY(318), xref=cxa, yref="paper", xshift=-5, text=C_SHIFT_LABELS[i],
                            showarrow=False, xanchor="center", yanchor="middle",
                            font=dict(family=FONT, size=18, color=shift_color)))
    # dashed zoom connectors to panel d
    for tw, dx in [(-0.25, D_LEFTS[i]), (0.25, D_LEFTS[i] + D_WIDTH)]:
        px = C_CENTERS[i] + tw * C_PX_PER_S
        shapes.append(dict(type="line", xref="paper", yref="paper", x0=PX(px), x1=PX(dx),
                           y0=PY(422), y1=PY(455), line=dict(color="#888888", width=2, dash="dash")))
    if i == 1:
        # 15 deg scale bar
        sb_t = (521 - C_CENTERS[i]) / C_PX_PER_S
        shapes.append(dict(type="line", xref=cxa, yref=cya, x0=sb_t, x1=sb_t, y0=-30.7, y1=-15.7,
                           line=dict(color="#333", width=4)))
        annotations.append(dict(x=sb_t + 0.1, y=-22, xref=cxa, yref=cya, text="15°", showarrow=False,
                                xanchor="left", yanchor="middle",
                                font=dict(family=FONT, size=18, color="black")))

# ---------------- panel d ----------------
add_text(45, 455, "d", size=26)
for i, dcol in enumerate([D1, D2, D3, D4]):
    dxa, dya = make_axes(D_LEFTS[i], 455, D_LEFTS[i] + D_WIDTH, 568, [-0.25, 0.25], [-30, 30],
                         yopts=dict(YLINE, showticklabels=(i == 0), tickvals=[-30, -15, 0, 15, 30],
                                    ticktext=["-30", "-15", "0", "15", "30"]))
    vline(dxa, dya, 0, -30, 30, layer="below")
    vline(dxa, dya, 0.25, -30, 30, layer="below")
    for t, red, blue in dcol:
        for vals, color, shade in [(blue, BLUE, "rgba(0,0,255,0.12)"), (red, RED, "rgba(255,0,0,0.12)")]:
            fig.add_trace(go.Scatter(x=t, y=vals, mode="lines", line=dict(color=shade, width=10),
                                     xaxis=dxa, yaxis=dya, hoverinfo="skip"))
            fig.add_trace(go.Scatter(x=t, y=vals, mode="lines", line=dict(color=color, width=2.5),
                                     xaxis=dxa, yaxis=dya, hoverinfo="skip"))
add_text(77, 510, "<i>θ</i> (°)", size=18, textangle=-90)

# ---------------- panel e ----------------
add_text(45, 597, "e", size=26)
RASTERS = [[(N1_C1_BLUE, N1_C1_RED), (N1_C2_BLUE, N1_C2_RED), (N1_C3_BLUE, N1_C3_RED), (N1_C4_BLUE, N1_C4_RED)],
           [(N2_C1_BLUE, N2_C1_RED), (N2_C2_BLUE, N2_C2_RED), (N2_C3_BLUE, N2_C3_RED), (N2_C4_BLUE, N2_C4_RED)],
           [(N3_C1_BLUE, N3_C1_RED), (N3_C2_BLUE, N3_C2_RED), (N3_C3_BLUE, N3_C3_RED), (N3_C4_BLUE, N3_C4_RED)]]
PSTHS = [(N1_BLUE_PSTH, N1_RED_PSTH), (N2_BLUE_PSTH, N2_RED_PSTH), (N3_BLUE_PSTH, N3_RED_PSTH)]
E_BOXES = [(585, 697), (713, 826), (842, 954)]
N_BINS = 41
BIN_W = 0.5 / N_BINS
psth_t = np.linspace(-0.25, 0.25, 11)


def raster_xy(rows, y_top, span):
    xs, ys = [], []
    for r, row in enumerate(rows):
        y = y_top - r * span / (len(rows) - 1)
        for j, ch in enumerate(row[:N_BINS]):
            if ch.isdigit():
                xs.append(-0.25 + (j + (int(ch) + 0.5) / 10) * BIN_W)
                ys.append(y)
    return xs, ys


for n in range(3):
    ey0, ey1 = E_BOXES[n]
    h = ey1 - ey0
    for i in range(4):
        exa, eya = make_axes(D_LEFTS[i], ey0, D_LEFTS[i] + D_WIDTH, ey1, [-0.25, 0.25], [0, h],
                             xopts=dict(showline=True, linecolor="black", linewidth=3))
        for tv in (-0.25, 0, 0.25):
            vline(exa, eya, tv, 0, h, color="#d9d9d9", width=2.5, layer="below")
        blue_rows, red_rows = RASTERS[n][i]
        for rows, y_top, span, color in [(blue_rows, h - 2.5, 29.5, BLUE), (red_rows, h - 40, 33, RED)]:
            xs, ys = raster_xy(rows, y_top, span)
            fig.add_trace(go.Scatter(x=xs, y=ys, mode="markers",
                                     marker=dict(symbol="square", size=2.4, color=color, line=dict(width=0)),
                                     xaxis=exa, yaxis=eya, hoverinfo="skip"))
        pb, pr = PSTHS[n]
        for vals, color in [(pb[i], BLUE), (pr[i], RED)]:
            fig.add_trace(go.Scatter(x=psth_t, y=np.array(vals) * 36.7 + 0.8, mode="lines",
                                     line=dict(color=color, width=2.5, shape="spline", smoothing=0.8),
                                     xaxis=exa, yaxis=eya, hoverinfo="skip"))
    add_text(122, (ey0 + ey1) / 2 - 2, "Neuron %d" % (n + 1), size=18, textangle=-90)

# ---------------- panels f and g ----------------
add_text(45, 975, "f", size=26)
add_text(45, 1117, "g", size=26)
f_t = np.linspace(-0.25, 0.25, 51)
g_t = np.linspace(-0.25, 0.25, 26)
for row, (y0, y1) in enumerate([(983, 1078), (1121, 1218)]):
    for i in range(4):
        xo = dict(showline=True, linecolor="black", linewidth=2, ticks="outside", ticklen=4,
                  tickcolor="black", tickwidth=1.5, tickvals=[-0.2, 0, 0.2], tickfont=TICKFONT,
                  showticklabels=(row == 1), ticktext=["-.2", "0", ".2"])
        yo = dict(YLINE, showticklabels=(i == 0), tickvals=[0.5, 0.6, 0.7, 0.8, 0.9, 1.0],
                  ticktext=[".5", "", "", "", "", "1"])
        fxa, fya = make_axes(D_LEFTS[i], y0, D_LEFTS[i] + D_WIDTH, y1, [-0.25, 0.25], [0.5, 1.0],
                             xopts=xo, yopts=yo)
        chance = F_CHANCE[i] if row == 0 else G_CHANCE[i]
        fig.add_trace(go.Scatter(x=g_t, y=chance, mode="lines", line=dict(width=0), fill="tozeroy",
                                 fillcolor="#d9d9d9", xaxis=fxa, yaxis=fya, hoverinfo="skip"))
        if row == 0:
            fig.add_trace(go.Scatter(x=f_t, y=F_CORRECT[i], mode="lines", line=dict(color="black", width=2),
                                     xaxis=fxa, yaxis=fya, hoverinfo="skip"))
        else:
            fig.add_trace(go.Scatter(x=g_t, y=G_LOWER[i], mode="lines", line=dict(width=0),
                                     xaxis=fxa, yaxis=fya, hoverinfo="skip"))
            fig.add_trace(go.Scatter(x=g_t, y=G_UPPER[i], mode="lines", line=dict(width=0), fill="tonexty",
                                     fillcolor="rgba(60,200,60,0.2)", xaxis=fxa, yaxis=fya, hoverinfo="skip"))
            fig.add_trace(go.Scatter(x=g_t, y=G_MEAN[i], mode="lines", line=dict(color=GREEN, width=2.5),
                                     xaxis=fxa, yaxis=fya, hoverinfo="skip"))
        vline(fxa, fya, 0, 0.5, 1.0)
        vline(fxa, fya, 0.25, 0.5, 1.0)
    add_text(88, (y0 + y1) / 2 - 4, "Frac. correct", size=18, textangle=-90)
add_text(547, 1267, "Time from the mid touch of fixed sequence (s)", size=18)

fig.update_layout(width=FW, height=FH, margin=dict(l=0, r=0, t=0, b=0), showlegend=False,
                  plot_bgcolor="white", paper_bgcolor="white", font=dict(family=FONT),
                  shapes=shapes, annotations=annotations, **axes_layout)
fig.write_html("out.html")
